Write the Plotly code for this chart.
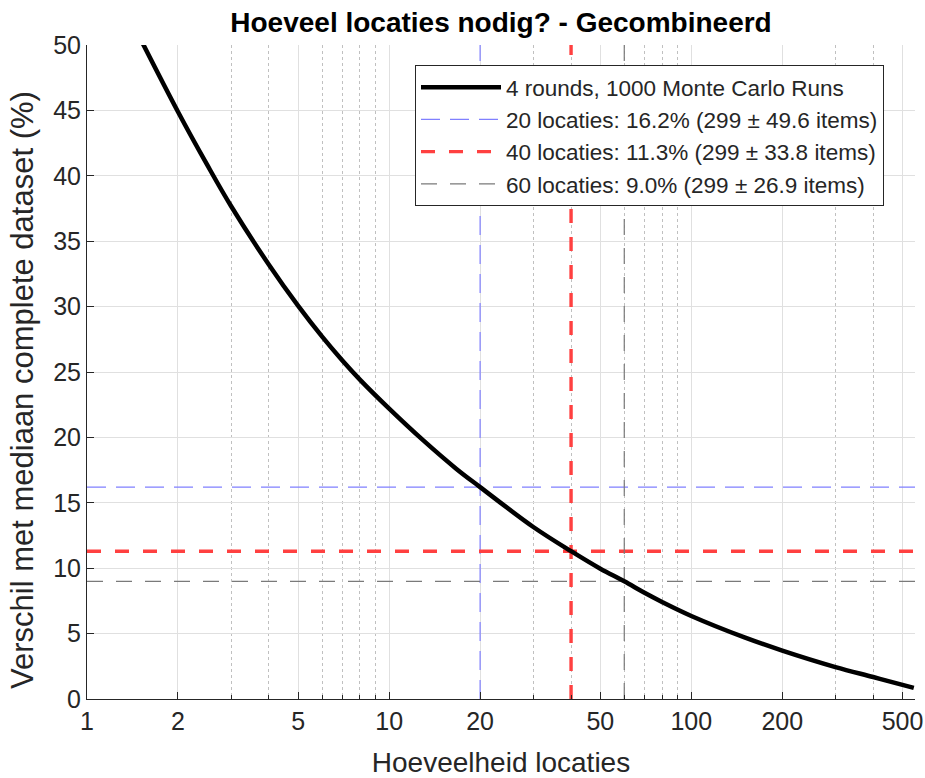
import numpy as np
import plotly.graph_objects as go

# Curve (locaties -> % verschil)
n_loc = [1.5, 2, 2.5, 3, 4, 5, 6, 7, 8, 10, 13, 16.7, 20, 30, 40, 50, 60, 70, 80,
         100, 150, 200, 300, 400, 500, 545]
pct_diff = [50.5, 44.9, 40.83, 37.67, 33.2, 30.05, 27.7, 25.88, 24.42, 22.2, 19.75, 17.59,
            16.2, 13.15, 11.3, 9.96, 9.0, 8.12, 7.42, 6.35, 4.71, 3.7, 2.44, 1.68, 1.08, 0.85]

# Reference thresholds
thr_loc = [20, 40, 60]
thr_pct = [16.2, 11.3, 9.0]
thr_items = [49.6, 33.8, 26.9]
median_items = 299
thr_colors = ["#8080ff", "#ff4040", "#7a7a7a"]
thr_widths = [1.2, 3.4, 1.2]
thr_dash = ["19px,10px", "14px,14px", "16px,13px"]

x_major = [1, 2, 5, 10, 20, 50, 100, 200, 500]
x_minor = [3, 4, 6, 7, 8, 9, 30, 40, 60, 70, 80, 90, 300, 400]
x_max = 550

FONT = "Liberation Sans, Arial, Helvetica, sans-serif"
TXT = "#262626"

fig = go.Figure()

for i, (nl, p, it) in enumerate(zip(thr_loc, thr_pct, thr_items)):
    fig.add_trace(go.Scatter(
        x=[1, x_max, None, nl, nl], y=[p, p, None, 0, 50],
        mode="lines",
        line=dict(color=thr_colors[i], width=thr_widths[i], dash=thr_dash[i]),
        name=f"{nl} locaties: {p:.1f}% ({median_items} ± {it:.1f} items)",
        legendrank=2 + i, hoverinfo="skip",
    ))

fig.add_trace(go.Scatter(
    x=n_loc, y=pct_diff, mode="lines",
    line=dict(color="black", width=4.5, shape="spline", smoothing=1.0),
    name="4 rounds, 1000 Monte Carlo Runs", legendrank=1,
))

fig.update_layout(
    width=925, height=778,
    margin=dict(l=87, r=10, t=45, b=79),
    paper_bgcolor="white", plot_bgcolor="white",
    font=dict(family=FONT, color=TXT, size=25),
    title=dict(text="<b>Hoeveel locaties nodig? - Gecombineerd</b>",
               x=0.5, xref="paper", xanchor="center",
               y=1 - 22 / 778, yref="container", yanchor="middle",
               font=dict(size=28, color="black", family=FONT)),
    showlegend=True,
    legend=dict(x=(415 - 87) / 828, y=(699 - 65) / 654, xanchor="left", yanchor="top",
                bgcolor="white", bordercolor=TXT, borderwidth=1,
                font=dict(size=22.5, color=TXT, family=FONT),
                itemwidth=80, tracegroupgap=0),
    annotations=[dict(
        text="Verschil met mediaan complete dataset (%)", textangle=-90,
        xref="paper", yref="paper", x=(22 - 87) / 828, y=(699 - 390) / 654,
        xanchor="center", yanchor="middle", showarrow=False,
        font=dict(size=31, color=TXT, family=FONT),
    )],
)

fig.update_xaxes(
    type="log", range=[0, np.log10(x_max)], automargin=False,
    tickmode="array", tickvals=x_major, ticktext=[str(v) for v in x_major],
    ticks="inside", ticklen=7, tickcolor=TXT, tickwidth=1,
    showline=True, linecolor=TXT, linewidth=1, mirror=False,
    showgrid=True, gridcolor="#e0e0e0", gridwidth=1,
    minor=dict(tickmode="array", tickvals=x_minor, ticks="inside", ticklen=4,
               tickcolor=TXT, showgrid=True, gridcolor="#c0c0c0", griddash="dot", gridwidth=1),
    title=dict(text="Hoeveelheid locaties", font=dict(size=28, color=TXT), standoff=18),
    tickfont=dict(size=25, color=TXT), zeroline=False,
)
fig.update_yaxes(
    range=[0, 50], tickmode="linear", tick0=0, dtick=5, automargin=False,
    ticks="inside", ticklen=7, tickcolor=TXT, tickwidth=1,
    showline=True, linecolor=TXT, linewidth=1, mirror=False,
    showgrid=True, gridcolor="#e0e0e0", gridwidth=1, zeroline=False,
    tickfont=dict(size=25, color=TXT),
)

fig.write_html("out.html")
